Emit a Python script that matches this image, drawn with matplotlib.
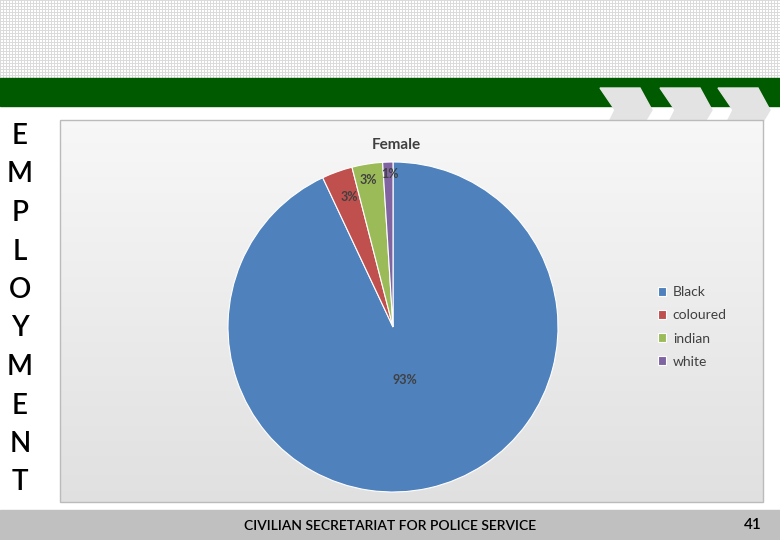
import numpy as np
import matplotlib
matplotlib.use("Agg")
import matplotlib.pyplot as plt
from matplotlib.patches import Rectangle, Polygon

plt.rcParams['font.family'] = ['Lato', 'DejaVu Sans']

labels = ["Black", "coloured", "indian", "white"]
values = [93, 3, 3, 1]
colors = ["#4f81bd", "#c0504d", "#9bbb59", "#8064a2"]
side_letters = list("EMPLOYMENT")

W, H = 780, 540
fig = plt.figure(figsize=(7.8, 5.4), dpi=100)

# background layer in pixel coordinates
bg = fig.add_axes([0, 0, 1, 1])
bg.set_xlim(0, W)
bg.set_ylim(H, 0)
bg.axis("off")

# grid pattern at the top
grid = np.ones((78, W, 3))
grid[::3, :, :] = 0.86
grid[:, ::3, :] = 0.86
bg.imshow(grid, extent=(0, W, 78, 0), aspect="auto", zorder=0)

bg.add_patch(Rectangle((0, 78), W, 28, color="#005a00", zorder=1))
for x0 in [600, 660, 718]:
    bg.add_patch(Polygon([(x0, 88), (x0 + 40, 88), (x0 + 52, 110), (x0 + 40, 130),
                          (x0 + 5, 130), (x0 + 15, 110)], closed=True,
                         color="#e3e3e3", zorder=2))

# chart box with gradient
grad = np.linspace(0.97, 0.88, 100)[:, None] * np.ones((100, 1))
bg.imshow(np.dstack([grad] * 3), extent=(60, 763, 502, 120), aspect="auto", zorder=3)
bg.add_patch(Rectangle((60, 120), 703, 382, fill=False, ec="#bbbbbb", lw=1, zorder=4))

# bottom bar
bg.add_patch(Rectangle((0, 510), W, 30, color="#c0c0c0", zorder=3))
bg.text(390, 526, "CIVILIAN SECRETARIAT FOR POLICE SERVICE", ha="center", va="center",
        fontsize=10, fontweight="semibold", color="black", zorder=5)
bg.text(753, 525, "41", ha="center", va="center", fontsize=11, fontweight="semibold",
        color="black", zorder=5)

for i, ch in enumerate(side_letters):
    bg.text(20, 136 + i * 38.5, ch, ha="center", va="center", fontsize=20,
            fontweight="semibold", color="black", zorder=5)

bg.text(396, 145, "Female", ha="center", va="center", fontsize=11, fontweight="bold",
        color="#404040", zorder=5)

# pie
cx, cy, r = 393, 327, 165
ax = fig.add_axes([(cx - r) / W, (H - cy - r) / H, 2 * r / W, 2 * r / H])
wedges, _, pcts = ax.pie(values, colors=colors, startangle=90, counterclock=False,
                         autopct="%1.0f%%", pctdistance=0.9,
                         wedgeprops=dict(edgecolor="white", linewidth=0.8),
                         textprops=dict(fontsize=9, fontweight="bold", color="#404040"))
ax.set_xlim(-1, 1)
ax.set_ylim(-1, 1)
ax.set_aspect("equal")
px, py = pcts[0].get_position()
pcts[0].set_position((px * 0.33 / 0.9, py * 0.33 / 0.9))
for t, shift in zip(pcts[1:], [(0.04, -0.06), (-0.01, 0.0), (0.01, 0.03)]):
    x, y = t.get_position()
    t.set_position((x + shift[0], y + shift[1]))

leg = fig.legend(wedges, labels, loc="center left", bbox_to_anchor=(645 / W, 1 - 327 / H),
                 frameon=False, fontsize=10, handlelength=0.6, handleheight=0.6,
                 labelspacing=0.8, handletextpad=0.5)
for t in leg.get_texts():
    t.set_color("#404040")

fig.savefig("out.png", dpi=100)
